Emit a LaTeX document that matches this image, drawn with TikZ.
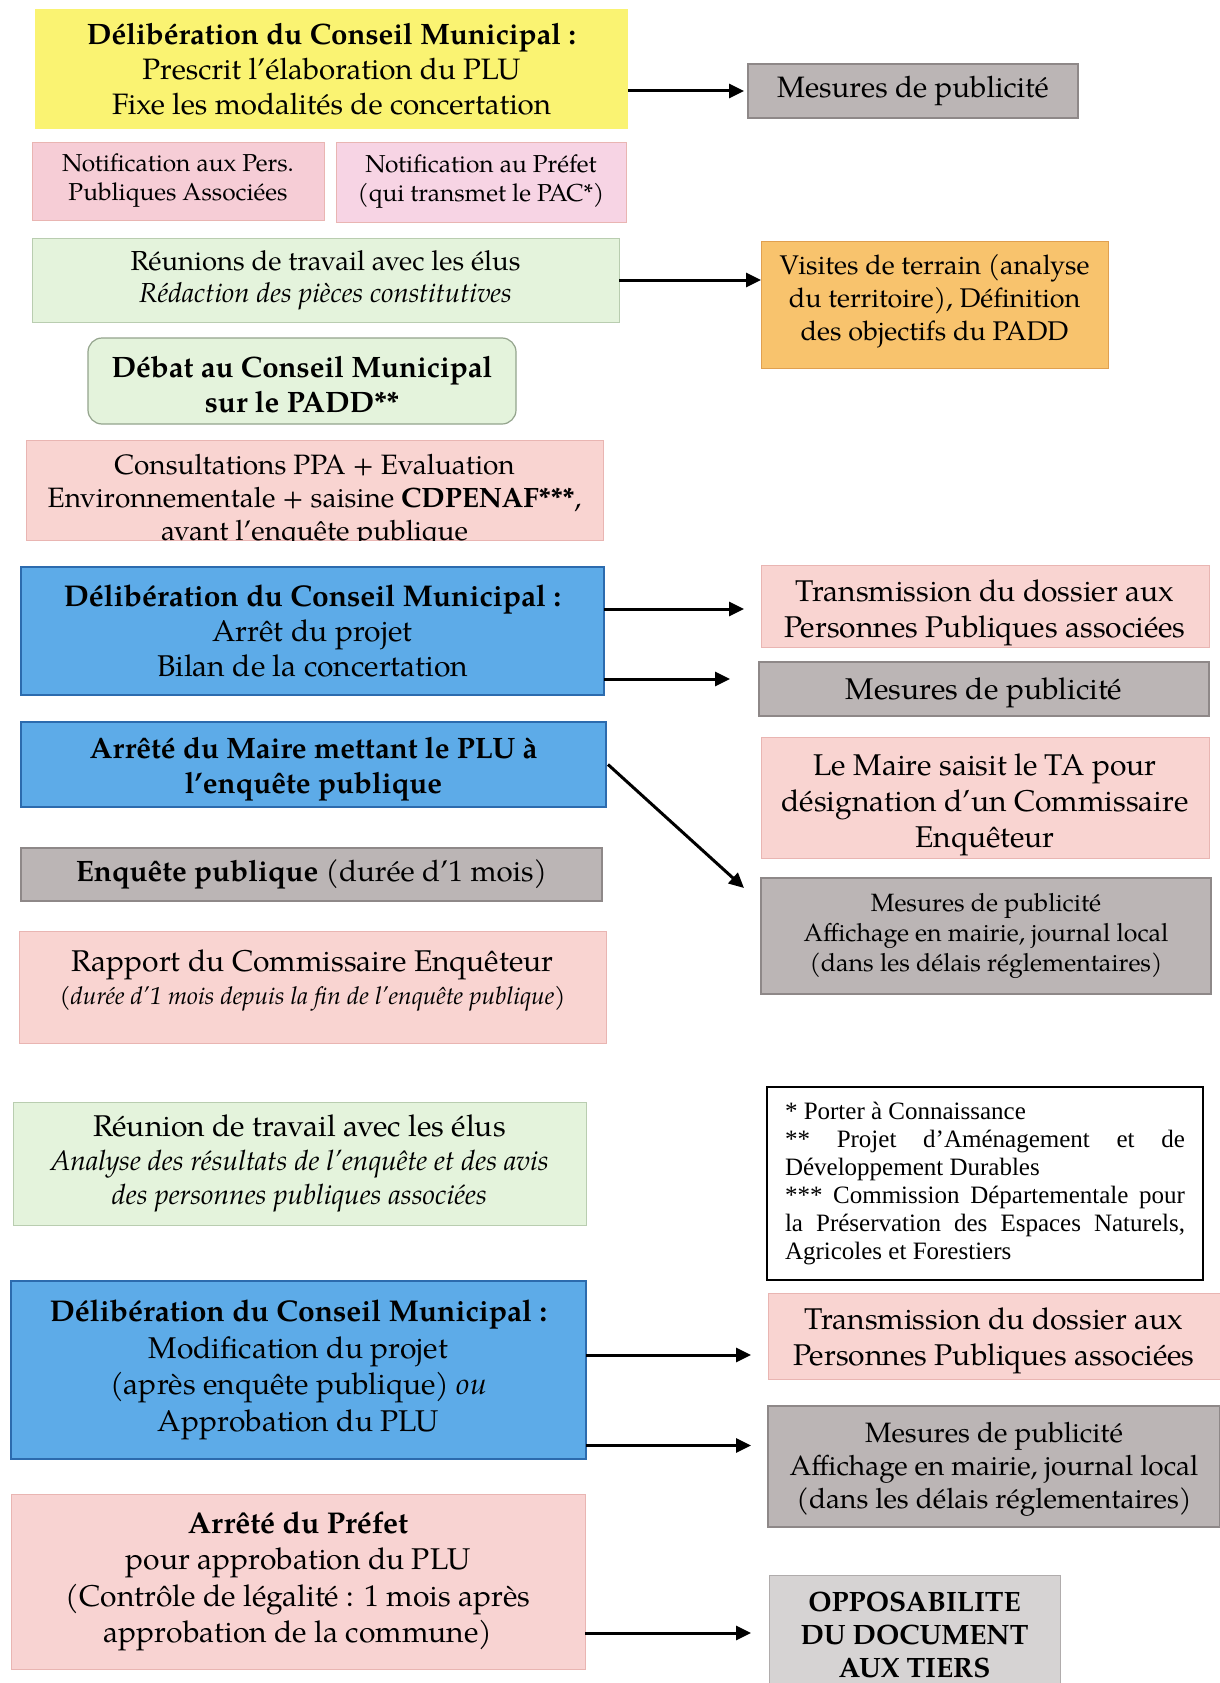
\documentclass[tikz,border=0pt]{standalone}
\usepackage{fontspec}
\setmainfont{TeX Gyre Pagella}
\newfontfamily\notefont{Liberation Serif}
\usetikzlibrary{arrows.meta,calc}
\definecolor{cyel}{HTML}{FAF372}
\definecolor{cpink}{HTML}{F9D4D1}
\definecolor{cpinkd}{HTML}{E9B5B2}
\definecolor{cpinka}{HTML}{F6CDD6}
\definecolor{cpinkb}{HTML}{F7D4E4}
\definecolor{cgreen}{HTML}{E4F3DC}
\definecolor{cgreend}{HTML}{B9CDB0}
\definecolor{corange}{HTML}{F8C36D}
\definecolor{corged}{HTML}{E0A050}
\definecolor{cblue}{HTML}{5DABE8}
\definecolor{cblued}{HTML}{2C6BAE}
\definecolor{cgrey}{HTML}{BBB5B5}
\definecolor{cgreyd}{HTML}{8E8888}
\definecolor{cgreyl}{HTML}{D6D3D3}
\newcommand\fs[2]{\fontsize{#1}{#2}\selectfont}
\begin{document}
\begin{tikzpicture}[x=1pt,y=-1pt,
  base/.style={rectangle,anchor=north west,inner sep=0pt,outer sep=0pt,align=center,font=\fs{30}{35}},
  tx/.style={inner sep=0pt,outer sep=0pt,align=center},
  sz/.style 2 args={minimum width=#1pt,minimum height=#2pt},
  pinkbox/.style={fill=cpink,draw=cpinkd,line width=1pt},
  greybox/.style={fill=cgrey,draw=cgreyd,line width=1.2pt},
  bluebox/.style={fill=cblue,draw=cblued,line width=1.5pt},
  greenbox/.style={fill=cgreen,draw=cgreend,line width=0.8pt},
  arr/.style={line width=3pt,-{Triangle[length=15pt,width=14pt]}}]
\useasboundingbox (0,0) rectangle (1220,1683);
\clip (0,0) rectangle (1220,1683);
\fill[white] (0,0) rectangle (1220,1683);

% left column
\node[base,sz={593}{120},fill=cyel,font=\fs{29.5}{35}] (delib1) at (35,9)
 {\textbf{Délibération du Conseil Municipal :}\\Prescrit l’élaboration du PLU\\Fixe les modalités de concertation};
\node[base,sz={292}{78},fill=cpinka,draw=cpinkd,line width=1pt,font=\fs{24.5}{29}] (notif1) at (32,142)
 {Notification aux Pers.\\Publiques Associées};
\node[base,sz={290}{80},fill=cpinkb,draw=cpinkd,line width=1pt,font=\fs{24.5}{29}] (notif2) at (336,142)
 {Notification au Préfet\\(qui transmet le PAC*)};
\node[base,sz={587}{84},greenbox,font=\fs{27.5}{32}] (reun1) at (32,238)
 {Réunions de travail avec les élus\\\textit{Rédaction des pièces constitutives}};
\node[base,sz={428}{86},greenbox,draw=cgreend!80!black,rounded corners=14pt,line width=1.2pt] (debat) at (88,338) {};
\node[tx,font=\fs{29.5}{35}\bfseries] (debat-t) at ($(debat.center)+(0,4)$)
 {Débat au Conseil Municipal\\sur le PADD**};
\node[base,sz={577}{100},pinkbox] (consult) at (26,440) {};
\begin{scope}
\clip (consult.north west) rectangle (consult.south east);
\node[anchor=north,inner sep=0pt,align=center,font=\fs{28}{33}] (consult-t) at ($(consult.north)+(0,14)$)
 {Consultations PPA + Evaluation\\Environnementale + saisine \textbf{CDPENAF***},\\avant l’enquête publique};
\end{scope}
\node[base,sz={583}{128},bluebox] (delib2) at (21,567)
 {\textbf{Délibération du Conseil Municipal :}\\Arrêt du projet\\Bilan de la concertation};
\node[base,sz={585}{85},bluebox] (maire1) at (21,722) {};
\node[tx,font=\fs{29.5}{35}\bfseries] (maire1-t) at ($(maire1.center)+(0,5)$)
 {Arrêté du Maire mettant le PLU à\\l’enquête publique};
\node[base,sz={581}{53},greybox,font=\fs{29.5}{35}] (enquete) at (21,848)
 {\textbf{Enquête publique} (durée d’1 mois)};
\node[base,sz={587}{112},pinkbox] (rapport) at (19,931) {};
\node[tx,font=\fs{30}{33}] (rapport-t) at ($(rapport.center)+(0,-7)$)
 {Rapport du Commissaire Enquêteur\\{\fs{24.5}{33}\itshape (durée d’1 mois depuis la fin de l’enquête publique)}};
\node[base,sz={573}{123},greenbox,font=\fs{30}{34}] (reun2) at (13,1102)
 {Réunion de travail avec les élus\\{\fs{28}{34}\itshape Analyse des résultats de l’enquête et des avis}\\{\fs{28}{34}\itshape des personnes publiques associées}};
\node[base,sz={575}{178},bluebox,font=\fs{30}{36.5}] (delib3) at (11,1281)
 {\textbf{Délibération du Conseil Municipal :}\\Modification du projet\\(après enquête publique) \textit{ou}\\Approbation du PLU};
\node[base,sz={574}{175},pinkbox,fill=cpink!80!cpinka,font=\fs{30}{36.5}] (prefet) at (11,1494)
 {\textbf{Arrêté du Préfet}\\pour approbation du PLU\\(Contrôle de légalité : 1 mois après\\approbation de la commune)};

% right column
\node[base,sz={330}{54},greybox,font=\fs{29.5}{35}] (pub1) at (748,64) {Mesures de publicité};
\node[base,sz={347}{127},fill=corange,draw=corged,line width=1pt] (visites) at (761,241) {};
\node[tx,font=\fs{27}{33}] (visites-t) at ($(visites.center)+(0,-3)$)
 {Visites de terrain (analyse\\du territoire), Définition\\des objectifs du PADD};
\node[base,sz={448}{82},pinkbox] (trans1) at (761,565) {};
\node[tx,font=\fs{30}{36}] (trans1-t) at ($(trans1.center)+(0,7)$)
 {Transmission du dossier aux\\Personnes Publiques associées};
\node[base,sz={450}{54},greybox] (pub2) at (759,662) {};
\node[tx,font=\fs{30}{35}] (pub2-t) at ($(pub2.center)+(0,4)$) {Mesures de publicité};
\node[base,sz={448}{121},pinkbox] (ta) at (761,737) {};
\node[tx,font=\fs{30}{36}] (ta-t) at ($(ta.center)+(0,7)$)
 {Le Maire saisit le TA pour\\désignation d’un Commissaire\\Enquêteur};
\node[base,sz={450}{116},greybox,font=\fs{25}{30}] (pub3) at (761,878)
 {Mesures de publicité\\Affichage en mairie, journal local\\(dans les délais réglementaires)};
\node[base,sz={436}{193},draw=black,line width=1.5pt,fill=white,align=justify,text width=400pt,inner xsep=18pt,
  font=\notefont\fs{25}{28}] (notes) at (767,1087)
 {\hyphenpenalty=10000 * Porter à Connaissance\par
  ** Projet d’Aménagement et de\linebreak Développement Durables\par
  *** Commission Départementale pour\linebreak la Préservation des Espaces Naturels,\linebreak Agricoles et Forestiers};
\node[base,sz={452}{86},pinkbox] (trans2) at (768,1293) {};
\node[tx,font=\fs{30}{36}] (trans2-t) at ($(trans2.center)+(0,5)$)
 {Transmission du dossier aux\\Personnes Publiques associées};
\node[base,sz={452}{121},greybox] (pub4) at (768,1406) {};
\node[tx,font=\fs{28}{33}] (pub4-t) at ($(pub4.center)+(0,3)$)
 {Mesures de publicité\\Affichage en mairie, journal local\\(dans les délais réglementaires)};
\node[base,sz={291}{120},fill=cgreyl,draw=cgreyd!70,line width=1pt,font=\fs{28}{33}\bfseries] (oppo) at (769,1575)
 {OPPOSABILITE\\DU DOCUMENT\\AUX TIERS};

% connectors
\draw[arr] (delib1.east |- pub1.west) -- ($(pub1.west)+(-4,0)$);
\draw[arr] (reun1.east) -- (reun1.east -| visites.west);
\coordinate (e3) at ($(trans1.west)+(-17,3)$);
\draw[arr] (delib2.east |- e3) -- (e3);
\coordinate (e4) at ($(pub2.west)+(-29,-10)$);
\draw[arr] (delib2.east |- e4) -- (e4);
\coordinate (e5) at ($(pub3.north west)+(-17,10)$);
\draw[arr] ($(maire1.east)+(2,0)$) -- (e5);
\coordinate (e6) at ($(trans2.west)+(-17,19)$);
\draw[arr] (delib3.east |- e6) -- (e6);
\coordinate (e7) at ($(pub4.west)+(-17,-21)$);
\draw[arr] (delib3.east |- e7) -- (e7);
\coordinate (e8) at ($(oppo.west)+(-18,-2)$);
\draw[arr] (prefet.east |- e8) -- (e8);
\end{tikzpicture}
\end{document}
